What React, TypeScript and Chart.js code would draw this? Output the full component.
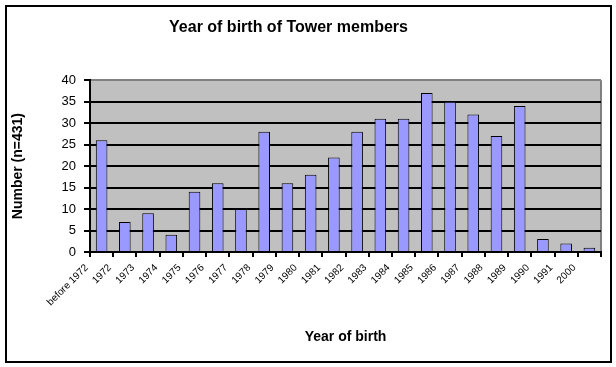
import React, { useEffect, useRef } from 'react';
import { Chart, registerables } from 'chart.js';

Chart.register(...registerables);

const categories: string[] = [
  'before 1972', '1972', '1973', '1974', '1975', '1976', '1977', '1978', '1979', '1980',
  '1981', '1982', '1983', '1984', '1985', '1986', '1987', '1988', '1989', '1990', '1991', '2000',
];
const counts: number[] = [26, 7, 9, 4, 14, 16, 10, 28, 16, 18, 22, 28, 31, 31, 37, 35, 32, 27, 34, 3, 2, 1];
const yMin = 0;
const yMax = 40;
const yStep = 5;

const chartTitle = 'Year of birth of Tower members';
const xTitle = 'Year of birth';
const yTitle = 'Number (n=431)';

const FONT = "'Liberation Sans', Arial, sans-serif";

const plotBackground = {
  id: 'plotBackground',
  beforeDraw(chart: any) {
    const { ctx, chartArea } = chart;
    const { left, top, right, bottom } = chartArea;
    ctx.save();
    ctx.fillStyle = '#C0C0C0';
    ctx.fillRect(left, top, right - left, bottom - top);
    ctx.strokeStyle = '#808080';
    ctx.lineWidth = 2;
    ctx.beginPath();
    ctx.moveTo(right, top);
    ctx.lineTo(right, bottom);
    ctx.stroke();
    ctx.restore();
  },
};

export default function App() {
  const canvasRef = useRef<HTMLCanvasElement | null>(null);

  useEffect(() => {
    const canvas = canvasRef.current;
    if (!canvas) return;
    const chart = new Chart(canvas, {
      type: 'bar',
      data: {
        labels: categories,
        datasets: [
          {
            data: counts,
            backgroundColor: '#9999FF',
            borderColor: '#000000',
            borderWidth: 1,
            barPercentage: 0.5,
            categoryPercentage: 1,
          },
        ],
      },
      options: {
        responsive: false,
        animation: false,
        layout: { padding: { left: 0, right: 15, top: 0, bottom: 0 } },
        plugins: {
          legend: { display: false },
          tooltip: { enabled: false },
          title: {
            display: true,
            text: chartTitle,
            color: '#000',
            font: { family: FONT, size: 16, weight: 'bold' },
            padding: { top: 18, bottom: 43 },
          },
        },
        scales: {
          x: {
            offset: true,
            grid: {
              offset: true,
              drawOnChartArea: false,
              color: '#000',
              lineWidth: 2,
              tickLength: 5,
            },
            border: { color: '#000', width: 2 },
            ticks: {
              autoSkip: false,
              minRotation: 45,
              maxRotation: 45,
              color: '#000',
              font: { family: FONT, size: 10 },
              labelOffset: -15,
              padding: 5,
            },
            title: {
              display: true,
              text: xTitle,
              color: '#000',
              font: { family: FONT, size: 14, weight: 'bold' },
              padding: { top: 0, bottom: 21 },
            },
            afterFit: (s: any) => {
              s.height = 115;
            },
          },
          y: {
            min: yMin,
            max: yMax,
            ticks: {
              stepSize: yStep,
              color: '#000',
              font: { family: FONT, size: 13 },
              padding: 8,
            },
            grid: {
              color: (ctx: any) => (ctx.tick && ctx.tick.value === yMax ? '#808080' : '#000'),
              tickColor: '#000',
              lineWidth: 2,
              tickLength: 6,
            },
            border: { color: '#000', width: 2 },
            title: {
              display: true,
              text: yTitle,
              color: '#000',
              font: { family: FONT, size: 14, weight: 'bold' },
              padding: { top: 34, bottom: 0 },
            },
            afterFit: (s: any) => {
              s.width = 114;
            },
          },
        },
      } as any,
      plugins: [plotBackground],
    });
    return () => chart.destroy();
  }, []);

  return (
    <div style={{ position: 'absolute', left: 0, top: 0, width: 616, height: 367, background: '#fff', overflow: 'hidden' }}>
      <canvas
        ref={canvasRef}
        width={640}
        height={367}
        style={{ position: 'absolute', left: -24, top: 0, width: 640, height: 367 }}
      />
      <div
        style={{
          position: 'absolute',
          left: 5,
          top: 5,
          width: 607,
          height: 358,
          border: '2px solid #000',
          boxSizing: 'border-box',
          pointerEvents: 'none',
        }}
      />
    </div>
  );
}
